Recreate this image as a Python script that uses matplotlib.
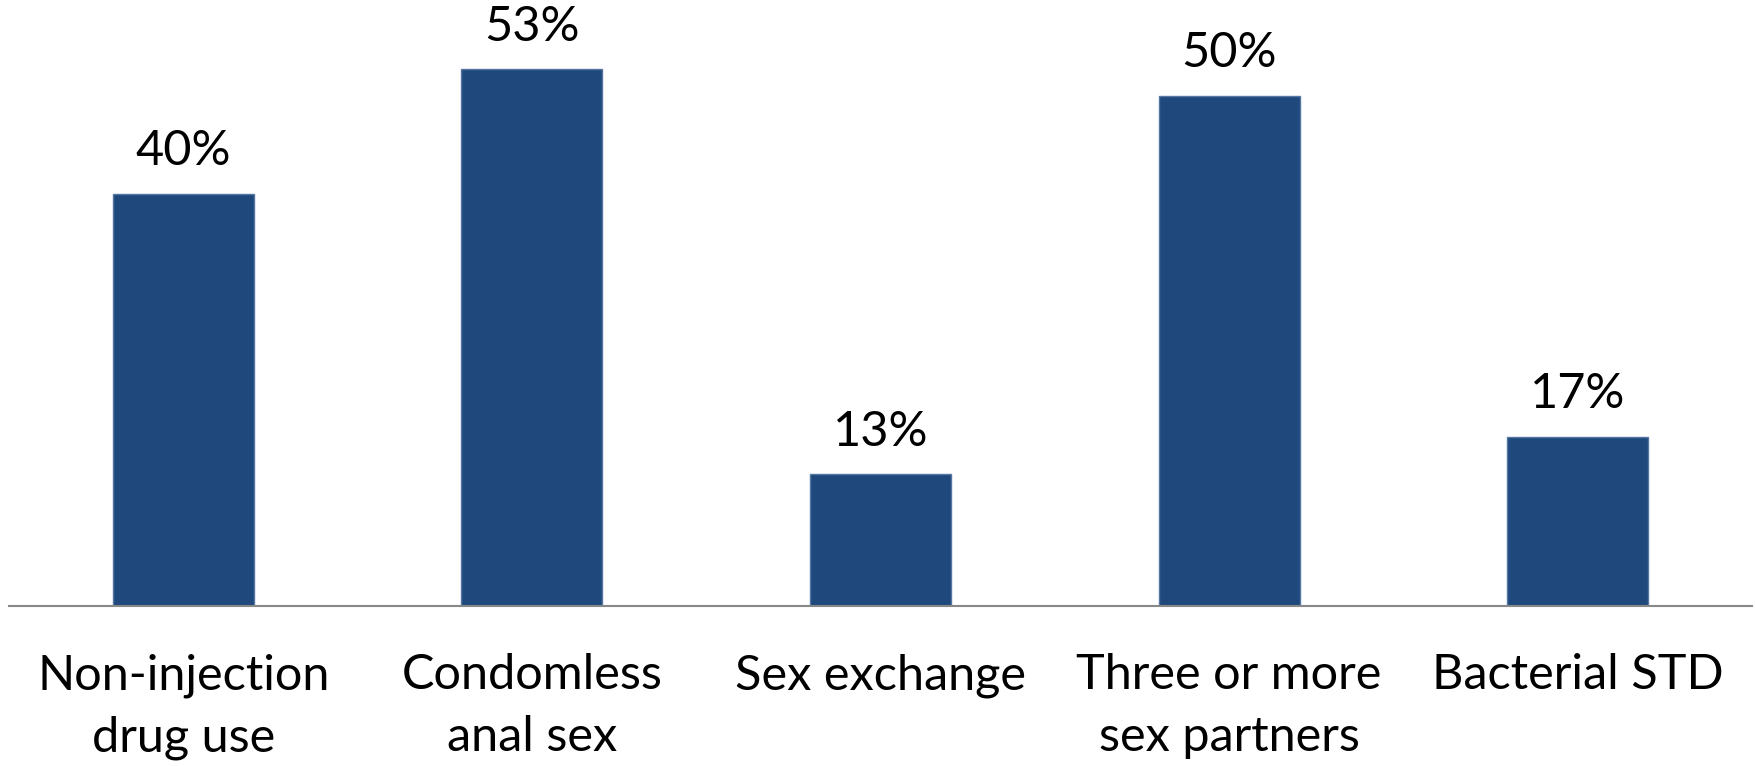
import matplotlib
matplotlib.use('Agg')
import matplotlib.pyplot as plt

plt.rcParams['font.family'] = ['Lato', 'DejaVu Sans']

categories = ['Non-injection\ndrug use', 'Condomless\nanal sex', 'Sex exchange',
              'Three or more\nsex partners', 'Bacterial STD']
values = [40.4, 52.6, 12.9, 50.0, 16.6]

fig = plt.figure(figsize=(17.56, 7.66), dpi=100)
ax = fig.add_axes([9 / 1756, 160 / 766, 1743 / 1756, 606 / 766])

x = range(len(categories))
bars = ax.bar(x, values, width=0.405, color='#1F497D', edgecolor='#5677a3', linewidth=1)

# etiquetas de valor sobre cada barra
for b, v in zip(bars, values):
    ax.text(b.get_x() + b.get_width() / 2, v + 2.0, '{:.0f}%'.format(v),
            ha='center', va='bottom', fontsize=35, color='black')

ax.set_xlim(-0.5, len(categories) - 0.5)
ax.set_ylim(0, 59.4)
ax.set_xticks(list(x))
ax.set_xticklabels(categories, fontsize=35, linespacing=1.5)
ax.tick_params(axis='x', length=0, pad=34)
ax.set_yticks([])
for s in ['top', 'left', 'right']:
    ax.spines[s].set_visible(False)
ax.spines['bottom'].set_color('#888888')
ax.spines['bottom'].set_linewidth(1.5)

fig.savefig('out.png', dpi=100)
